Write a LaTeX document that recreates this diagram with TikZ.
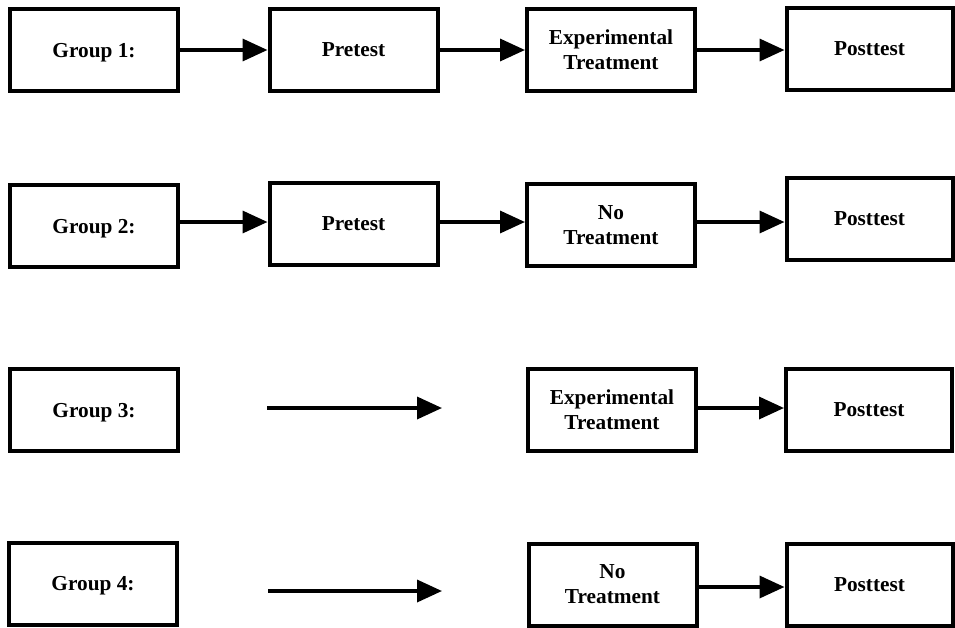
\documentclass[tikz,border=0pt]{standalone}
\usepackage{fontspec}
\setmainfont{Liberation Serif}
\usetikzlibrary{arrows.meta}

\begin{document}
\begin{tikzpicture}[x=1pt, y=-1pt,
    stage/.style={draw, line width=4pt, minimum width=168pt, minimum height=82pt, inner sep=0pt, text depth=0pt, align=center, font=\bfseries\fontsize{21.3}{25}\selectfont},
    post/.style={stage, minimum width=166pt},
    flow/.style={line width=3.5pt, -{Triangle[length=25pt, width=22pt]}}]
    \useasboundingbox (0,0) rectangle (955,627);
    % Group 1
    \node[stage] (g1) at (94,50) {Group 1:};
    \node[stage] (pre1) at (353.5,50) {Pretest};
    \node[stage] (trt1) at (611,50) {Experimental\\Treatment};
    \node[post] (post1) at (869.5,49) {Posttest};
    \coordinate (r1) at (0,50);
    \draw[flow] (g1.east |- r1) -- (pre1.west |- r1);
    \draw[flow] (pre1.east |- r1) -- (trt1.west |- r1);
    \draw[flow] (trt1.east |- r1) -- (post1.west |- r1);
    % Group 2
    \node[stage] (g2) at (94,226) {Group 2:};
    \node[stage] (pre2) at (353.5,223.5) {Pretest};
    \node[stage] (trt2) at (611,225) {No\\Treatment};
    \node[post] (post2) at (869.5,219) {Posttest};
    \coordinate (r2) at (0,222);
    \draw[flow] (g2.east |- r2) -- (pre2.west |- r2);
    \draw[flow] (pre2.east |- r2) -- (trt2.west |- r2);
    \draw[flow] (trt2.east |- r2) -- (post2.west |- r2);
    % Group 3
    \node[stage] (g3) at (94,410) {Group 3:};
    \node[stage] (trt3) at (612,410) {Experimental\\Treatment};
    \node[post] (post3) at (869,410) {Posttest};
    \coordinate (s3) at (267,408);
    \coordinate (e3) at (442,408);
    \draw[flow] (s3) -- (e3);
    \draw[flow] (trt3.east |- s3) -- (post3.west |- s3);
    % Group 4
    \node[stage] (g4) at (93,583.5) {Group 4:};
    \node[stage] (trt4) at (612.5,584.5) {No\\Treatment};
    \node[post] (post4) at (869.5,584.5) {Posttest};
    \coordinate (s4) at (268,591);
    \coordinate (e4) at (442,591);
    \coordinate (r4) at (0,587);
    \draw[flow] (s4) -- (e4);
    \draw[flow] (trt4.east |- r4) -- (post4.west |- r4);
\end{tikzpicture}
\end{document}
